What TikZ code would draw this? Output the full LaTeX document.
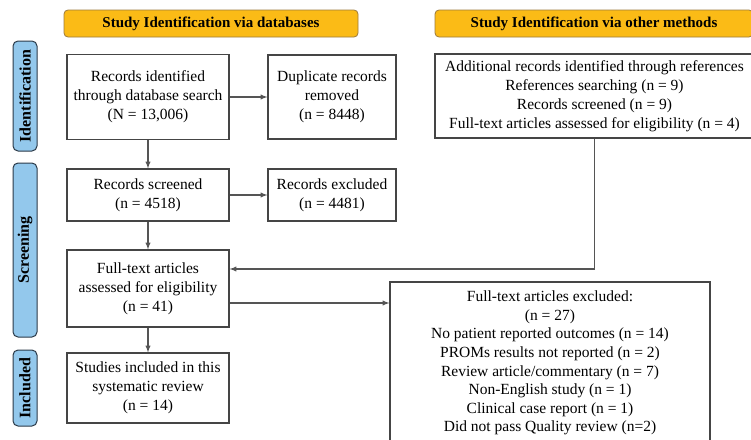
\documentclass[tikz,border=0pt]{standalone}
\usepackage{fontspec}
\setmainfont{Liberation Serif}
\usepackage{tikz}
\usetikzlibrary{shapes,arrows,positioning}
\definecolor{headfill}{HTML}{FBBB16}
\definecolor{headdraw}{HTML}{9C7A3C}
\definecolor{stagefill}{HTML}{93C8EC}
\definecolor{stagedraw}{HTML}{2B3A48}
\definecolor{boxdraw}{HTML}{454545}
\definecolor{linecol}{HTML}{555555}
\tikzstyle{head} = [rectangle, rounded corners=4pt, fill=headfill, draw=headdraw, line width=0.8pt, minimum height=27pt, font=\fontsize{15}{19}\selectfont\bfseries]
\tikzstyle{stage} = [rectangle, rounded corners=5pt, fill=stagefill, draw=stagedraw, line width=1pt, rotate=90, minimum height=24pt, inner sep=0pt, font=\fontsize{16}{19}\selectfont\bfseries]
\tikzstyle{box} = [rectangle, draw=boxdraw, line width=1.2pt, align=center, inner sep=2pt, font=\fontsize{15.5}{19}\selectfont]
\tikzstyle{line} = [draw=linecol, line width=1.3pt, -latex]

\begin{document}
\begin{tikzpicture}[x=1pt, y=-1pt]
			\useasboundingbox (0,0) rectangle (751,439);
			\clip (0,0) rectangle (751,439);
			% headers
			\node [head, minimum width=294pt] (h1) at (211, 23.5) {Study Identification via databases};
			\node [head, minimum width=318pt] (h2) at (594, 23.5) {Study Identification via other methods};
			% stages
			\node [stage, minimum width=110pt] (s1) at (25, 96) {Identification};
			\node [stage, minimum width=174pt] (s2) at (25, 250) {Screening};
			\node [stage, minimum width=76pt] (s3) at (25, 388) {Included};
			% boxes
			\node [box, minimum width=162pt, minimum height=85pt] (A) at (148, 97) {Records identified\\through database search\\(N = 13,006)};
			\node [box, minimum width=128pt, minimum height=84pt] (B) at (332, 97) {Duplicate records\\removed\\(n = 8448)};
			\node [box, minimum width=162pt, minimum height=52pt] (C) at (148, 195) {Records screened\\(n = 4518)};
			\node [box, minimum width=128pt, minimum height=52pt] (D) at (332, 195) {Records excluded\\(n = 4481)};
			\node [box, minimum width=162pt, minimum height=77pt] (E) at (148, 288.5) {Full-text articles\\assessed for eligibility\\(n = 41)};
			\node [box, minimum width=162pt, minimum height=70pt] (F) at (148, 388) {Studies included in this\\systematic review\\(n = 14)};
			\node [box, minimum width=319pt, minimum height=84pt] (G) at (594.5, 96) {Additional records identified through references\\References searching (n = 9)\\Records screened (n = 9)\\Full-text articles assessed for eligibility (n = 4)};
			\node [box, minimum width=320pt, minimum height=162pt, font=\fontsize{15.5}{18.6}\selectfont] (H) at (550, 363) {Full-text articles excluded:\\(n = 27)\\No patient reported outcomes (n = 14)\\PROMs results not reported (n = 2)\\Review article/commentary (n = 7)\\Non-English study (n = 1)\\Clinical case report (n = 1)\\Did not pass Quality review (n=2)};
			\coordinate (eIn) at ([yshift=19.5pt]E.east);
			\coordinate (eOut) at ([yshift=-14.5pt]E.east);

			\path [line] (A) -- (B);
			\path [line] (A) -- (C);
			\path [line] (C) -- (D);
			\path [line] (C) -- (E);
			\path [line] (E) -- (F);
			\path [line] (G.south) |- (eIn);
			\path [line] (eOut) -- (eOut -| H.west);
		\end{tikzpicture}
\end{document}
